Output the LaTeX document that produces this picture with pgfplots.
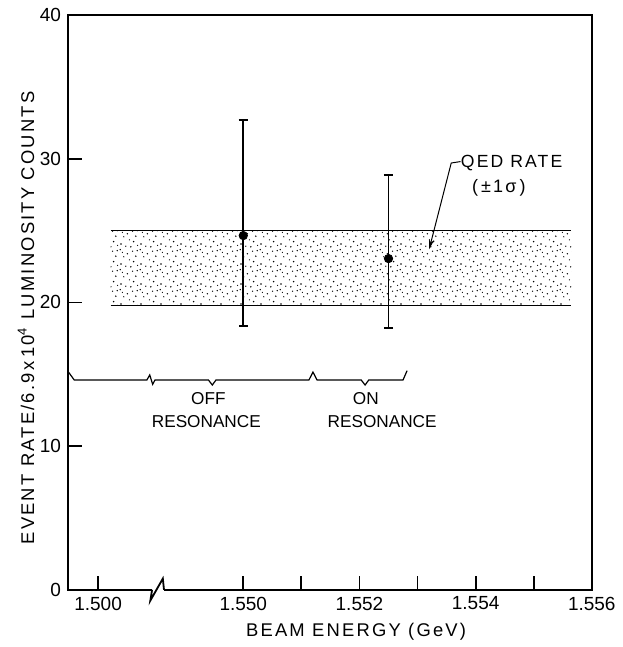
\documentclass[border=0pt]{standalone}
\usepackage{fontspec}
\setmainfont{Liberation Sans}
\newfontfamily\spaced{Liberation Sans}[LetterSpace=12]
\usepackage{pgfplots}
\pgfplotsset{compat=1.18}
\usetikzlibrary{arrows.meta,patterns.meta}

% stipple used for the QED band
\tikzdeclarepattern{
  name=stipple,
  type=uncolored,
  bounding box={(0pt,0pt) and (10pt,10pt)},
  tile size={(10pt,10pt)},
  code={
    \fill (1pt,2pt) circle (0.4pt);
    \fill (4.2pt,7.1pt) circle (0.36pt);
    \fill (7.3pt,3.2pt) circle (0.42pt);
    \fill (9.1pt,8.7pt) circle (0.36pt);
    \fill (2.4pt,5.6pt) circle (0.34pt);
    \fill (5.9pt,0.6pt) circle (0.38pt);
    \fill (8.4pt,5.9pt) circle (0.4pt);
    \fill (0.6pt,9.2pt) circle (0.36pt);
    \fill (5.2pt,4.1pt) circle (0.32pt);
    \fill (3.4pt,0.9pt) circle (0.36pt);
    \fill (6.8pt,8.4pt) circle (0.34pt);
    \fill (9.3pt,1.3pt) circle (0.32pt);
    \fill (1.7pt,7.8pt) circle (0.3pt);
  }
}

\begin{document}
\begin{tikzpicture}
\begin{axis}[
    name=ax,
    scale only axis,
    width=262pt, height=287.5pt,
    xmin=-3.018, xmax=6,
    ymin=0, ymax=40,
    clip=false,
    xtick={-2.5,0,1,2,3,4,5,6},
    xticklabels={1.500,1.550,,1.552,,1.554,,1.556},
    ytick={0,10,20,30,40},
    tick pos=left,
    tick align=inside,
    major tick length=7pt,
    tick style={black, line width=0.9pt},
    axis line style={line width=1pt},
    /pgf/number format/assume math mode=true,
    ticklabel style={font=\fontsize{9.5}{10}\selectfont},
    xlabel={\spaced BEAM ENERGY (GeV)},
    ylabel={\spaced EVENT RATE/6.9\,x\,10\textsuperscript{4} LUMINOSITY COUNTS},
    label style={font=\fontsize{9.2}{10}\selectfont},
    xlabel style={at={(axis description cs:0.55,-0.073)}, anchor=center},
    ylabel style={at={(axis description cs:-0.08,0.473)}, anchor=center},
    ]
% QED rate band (+-1 sigma)
\addplot[draw=none, pattern=stipple, pattern color=black]
    coordinates {(-2.285,19.8) (5.65,19.8) (5.65,25.0) (-2.285,25.0) (-2.285,19.8)};
\addplot[black, line width=0.6pt] coordinates {(-2.285,25.0) (5.65,25.0)};
\addplot[black, line width=0.6pt] coordinates {(-2.285,19.8) (5.65,19.8)};
% measured rates
\addplot[black, only marks, mark=*, mark size=2.1pt,
    error bars/.cd, y dir=both, y explicit,
    error bar style={line width=0.8pt},
    error mark options={rotate=90, mark size=2.3pt, line width=0.8pt}]
    coordinates {
    (0,24.65) += (0,8.05) -= (0,6.3)
    (2.5,23.05) += (0,5.83) -= (0,4.85)
    };
% off / on resonance bracket
\addplot[black, line width=0.6pt] coordinates {
    (-3.018,15.2) (-2.91,14.6) (-1.66,14.6) (-1.61,14.95) (-1.56,14.3) (-1.52,14.6)
    (-0.60,14.6) (-0.533,14.25) (-0.47,14.6)
    (1.13,14.6) (1.2,15.15) (1.27,14.6)
    (2.03,14.6) (2.097,14.25) (2.16,14.6)
    (2.75,14.6) (2.82,15.25)};
\node[font=\fontsize{8.6}{10}\selectfont] at (axis cs:-0.6,13.3) {OFF};
\node[font=\fontsize{8.6}{10}\selectfont] at (axis cs:-0.636,11.72) {RESONANCE};
\node[font=\fontsize{8.6}{10}\selectfont] at (axis cs:2.11,13.3) {ON};
\node[font=\fontsize{8.6}{10}\selectfont] at (axis cs:2.39,11.72) {RESONANCE};
% QED label and arrow
\node[font=\fontsize{8.8}{10}\selectfont\spaced] at (axis cs:4.62,29.72) {QED RATE};
\node[font=\fontsize{9}{10}\selectfont\spaced] at (axis cs:4.4,27.95) {(\,±1σ\,)};
\draw[-{Stealth[length=5pt,width=2.6pt]}, line width=0.5pt]
    (axis cs:3.74,29.8) -- (axis cs:3.58,29.7) -- (axis cs:3.2,23.7);
% broken x axis
\draw[white, line width=2pt] (axis cs:-1.57,0) -- (axis cs:-1.37,0);
\draw[black, line width=0.9pt] (axis cs:-1.57,0) -- (axis cs:-1.6,-0.75)
    -- (axis cs:-1.385,0.78) -- (axis cs:-1.365,0);
\end{axis}
\path ([shift={(-34pt,-28.5pt)}]ax.south west) rectangle ([shift={(272.5pt,295pt)}]ax.south west);
\end{tikzpicture}
\end{document}
